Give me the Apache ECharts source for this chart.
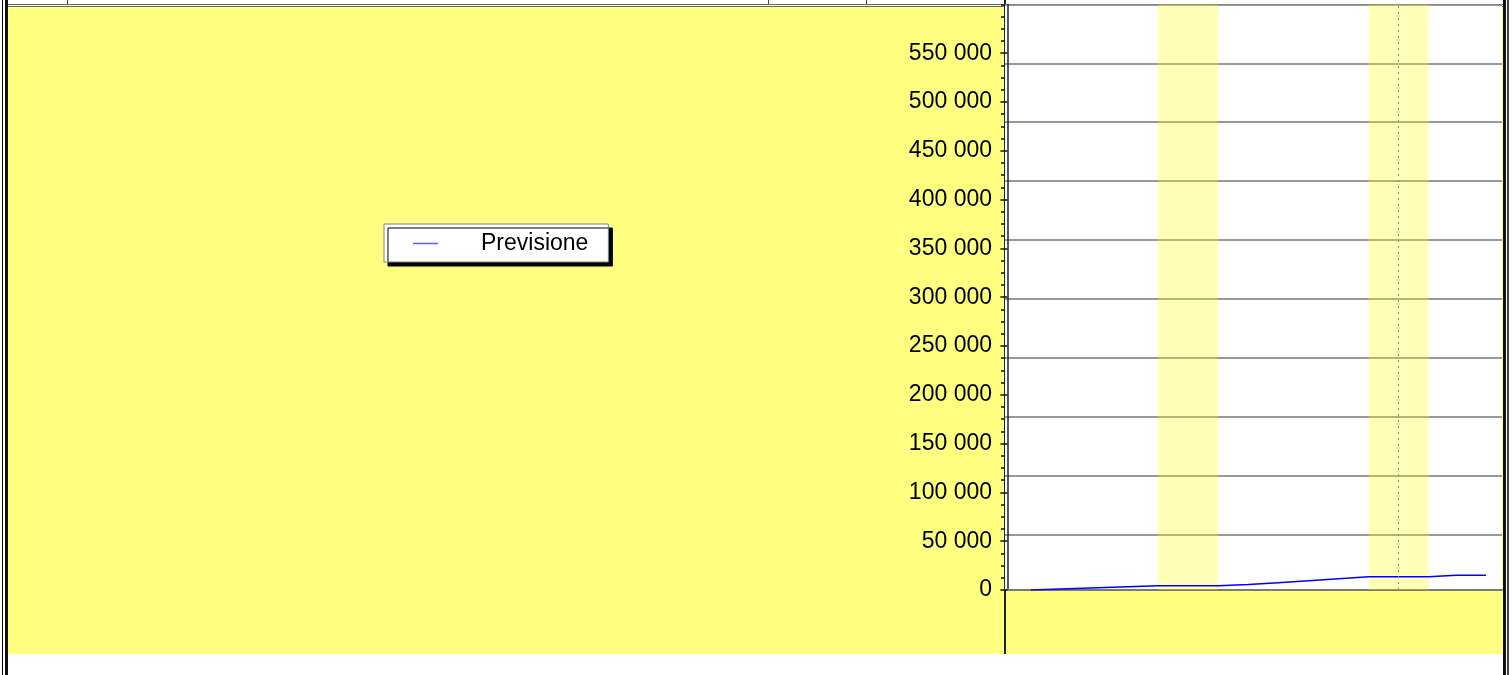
<!DOCTYPE html>
<html lang="it">
<head>
    <meta charset="UTF-8">
    <title>Previsione</title>
    <script src="https://cdn.jsdelivr.net/npm/echarts@6.0.0/dist/echarts.min.js"></script>
    <style>
        body { margin: 0; background: #fff; }
        #page { position: relative; width: 1512px; height: 675px; overflow: hidden; }
        .f { position: absolute; }
        #chart { position: absolute; left: 0; top: 0; width: 1512px; height: 675px; }
    </style>
</head>
<body>
<div id="page">
    <!-- yellow panel and frame lines -->
    <div class="f" style="left:8px;top:6px;width:1495px;height:648px;background:#ffff80"></div>
    <div class="f" style="left:2px;top:0;width:1px;height:675px;background:#000"></div>
    <div class="f" style="left:5px;top:0;width:3px;height:675px;background:#111"></div>
    <div class="f" style="left:1503px;top:0;width:3px;height:675px;background:#111"></div>
    <div class="f" style="left:1507px;top:0;width:2px;height:675px;background:#444"></div>
    <div class="f" style="left:8px;top:4px;width:1495px;height:1px;background:#666"></div>
    <div class="f" style="left:8px;top:6px;width:1495px;height:1px;background:#666"></div>
    <div class="f" style="left:67px;top:0;width:1px;height:4px;background:#444"></div>
    <div class="f" style="left:768px;top:0;width:1px;height:4px;background:#444"></div>
    <div class="f" style="left:866px;top:0;width:1px;height:4px;background:#444"></div>
    <div class="f" style="left:1004px;top:0;width:2px;height:654px;background:#222"></div>
    <div id="chart"></div>
</div>

<script>
    // days counted from the first Monday of the view
    var days = [0.78, 2, 3, 4, 5, 7, 8, 9, 10, 11, 12, 14, 14.9, 15.9];
    var previsione = [0, 1300, 2400, 3400, 4300, 4300, 5600, 7500, 9500, 11500, 13500, 13500, 15200, 15200];
    var weekends = [[5, 7], [12, 14]];
    var today = 13;
    var seriesName = 'Previsione';

    var chart = echarts.init(document.getElementById('chart'));

    function fmt(v) {
        return String(v).replace(/\B(?=(\d{3})+(?!\d))/g, ' ');
    }

    var option = {
        backgroundColor: 'transparent',
        animation: false,
        legend: {
            left: 384,
            top: 224,
            orient: 'horizontal',
            backgroundColor: '#fff',
            borderColor: '#808080',
            borderWidth: 1,
            padding: [8, 20, 7, 29],
            icon: 'rect',
            itemWidth: 25,
            itemHeight: 1.5,
            shadowColor: '#000',
            shadowBlur: 0,
            shadowOffsetX: 4,
            shadowOffsetY: 4,
            textStyle: {
                fontFamily: 'Liberation Sans, Arial, sans-serif',
                fontSize: 23,
                color: '#000',
                padding: [0, 0, 0, 38]
            },
            data: [{ name: seriesName, itemStyle: { color: '#5a5aff' } }]
        },
        grid: {
            left: 1005,
            top: 4.4,
            width: 497,
            height: 585.6,
            show: true,
            backgroundColor: '#fff',
            borderWidth: 0
        },
        xAxis: {
            type: 'value',
            min: -0.08,
            max: 16.43,
            axisLine: { show: true, lineStyle: { color: '#7a7a7a', width: 2 } },
            axisTick: { show: false },
            axisLabel: { show: false },
            splitLine: { show: false }
        },
        yAxis: [{
            type: 'value',
            min: 0,
            max: 600000,
            interval: 50000,
            position: 'left',
            axisLine: { show: true, lineStyle: { color: '#222', width: 1.5 } },
            axisTick: { show: true, inside: false, length: 7, lineStyle: { color: '#111', width: 1.5 } },
            axisLabel: {
                margin: 13,
                showMaxLabel: false,
                fontFamily: 'Liberation Sans, Arial, sans-serif',
                fontSize: 23,
                color: '#000',
                formatter: fmt
            },
            splitLine: { show: false }
        }, {
            // hidden scale that only draws the horizontal grid
            type: 'value',
            inverse: true,
            min: 0,
            max: 9.94,
            interval: 1,
            position: 'right',
            axisLine: { show: false },
            axisTick: { show: false },
            axisLabel: { show: false },
            splitLine: { show: true, lineStyle: { color: '#777', width: 1.5 } }
        }, {
            // minor ticks, same range as the value axis
            type: 'value',
            min: 0,
            max: 600000,
            interval: 12500,
            position: 'left',
            offset: 0,
            axisLine: { show: false },
            axisTick: { show: true, inside: false, length: 4, lineStyle: { color: '#111', width: 1.5 } },
            axisLabel: { show: false },
            splitLine: { show: false }
        }],
        series: [{
            name: seriesName,
            type: 'line',
            yAxisIndex: 0,
            symbol: 'none',
            showSymbol: false,
            lineStyle: { color: '#0000ff', width: 1.5 },
            itemStyle: { color: '#0000ff' },
            data: days.map(function (d, i) { return [d, previsione[i]]; }),
            markArea: {
                silent: true,
                itemStyle: { color: 'rgba(255, 255, 0, 0.28)' },
                data: weekends.map(function (w) { return [{ xAxis: w[0] }, { xAxis: w[1] }]; })
            },
            markLine: {
                silent: true,
                symbol: 'none',
                label: { show: false },
                lineStyle: { color: '#888', type: [2, 4], width: 1 },
                data: [{ xAxis: today }]
            }
        }]
    };

    chart.setOption(option);
</script>
</body>
</html>
